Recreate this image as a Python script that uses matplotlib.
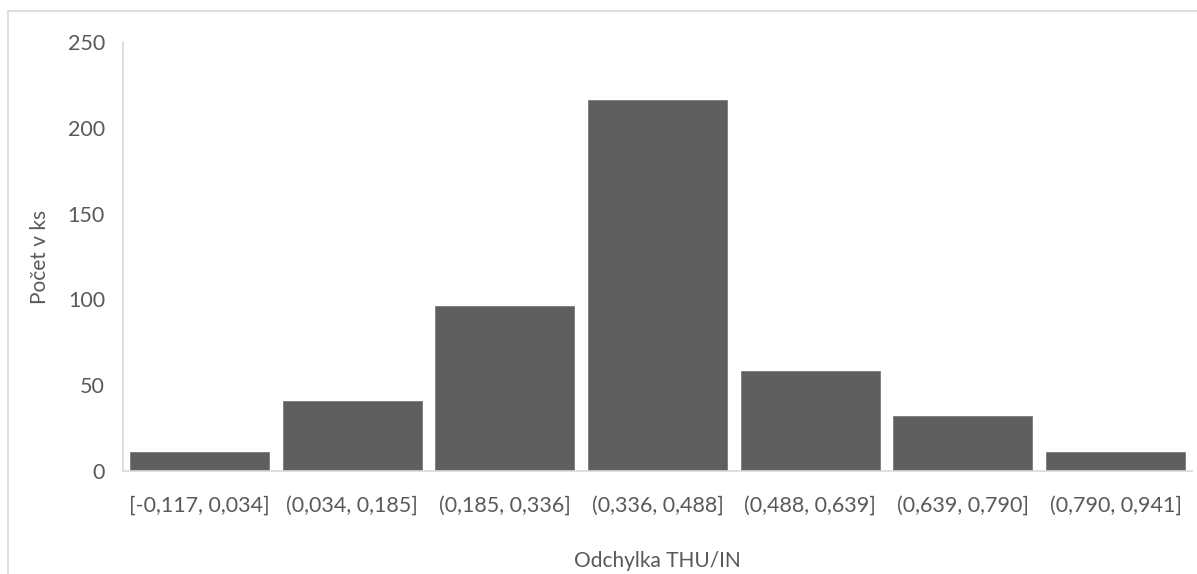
import matplotlib.pyplot as plt
from matplotlib.patches import Rectangle

# histogram bins and counts
bins = ["[-0,117, 0,034]", "(0,034, 0,185]", "(0,185, 0,336]", "(0,336, 0,488]",
        "(0,488, 0,639]", "(0,639, 0,790]", "(0,790, 0,941]"]
counts = [11, 41, 96, 216, 58, 32, 11]
y_ticks = [0, 50, 100, 150, 200, 250]

plt.rcParams['font.family'] = ['Lato', 'DejaVu Sans']
text_col = '#595959'
axis_col = '#d9d9d9'

fig = plt.figure(figsize=(11.97, 5.74), dpi=100)
ax = fig.add_axes([0.1028, 0.1794, 0.8930, 0.7474])

# chart border like the Excel chart area
fig.patches.append(Rectangle((8 / 1197, -0.05), 1.2, 1 - 11 / 574 + 0.05,
                             transform=fig.transFigure, fill=False,
                             edgecolor=axis_col, linewidth=1.2))

x = range(len(bins))
ax.bar(x, counts, width=0.91, color='#5f5f5f', edgecolor='#7a7a7a', linewidth=0.6)

ax.set_xlim(-0.5, len(bins) - 0.5)
ax.set_ylim(0, 250)
ax.set_yticks(y_ticks)
ax.set_xticks(list(x))
ax.set_xticklabels(bins)

for side in ['top', 'right']:
    ax.spines[side].set_visible(False)
for side in ['left', 'bottom']:
    ax.spines[side].set_color(axis_col)
    ax.spines[side].set_linewidth(1.2)

ax.tick_params(axis='both', length=0, labelsize=15.5, colors=text_col)
ax.tick_params(axis='y', pad=13)
ax.tick_params(axis='x', pad=18)

ax.set_ylabel("Počet v ks", fontsize=15, color=text_col)
ax.yaxis.set_label_coords(-0.068, 0.5)
ax.set_xlabel("Odchylka THU/IN", fontsize=15, color=text_col)
ax.xaxis.set_label_coords(0.4995, -0.187)

fig.savefig("out.png", dpi=100)
